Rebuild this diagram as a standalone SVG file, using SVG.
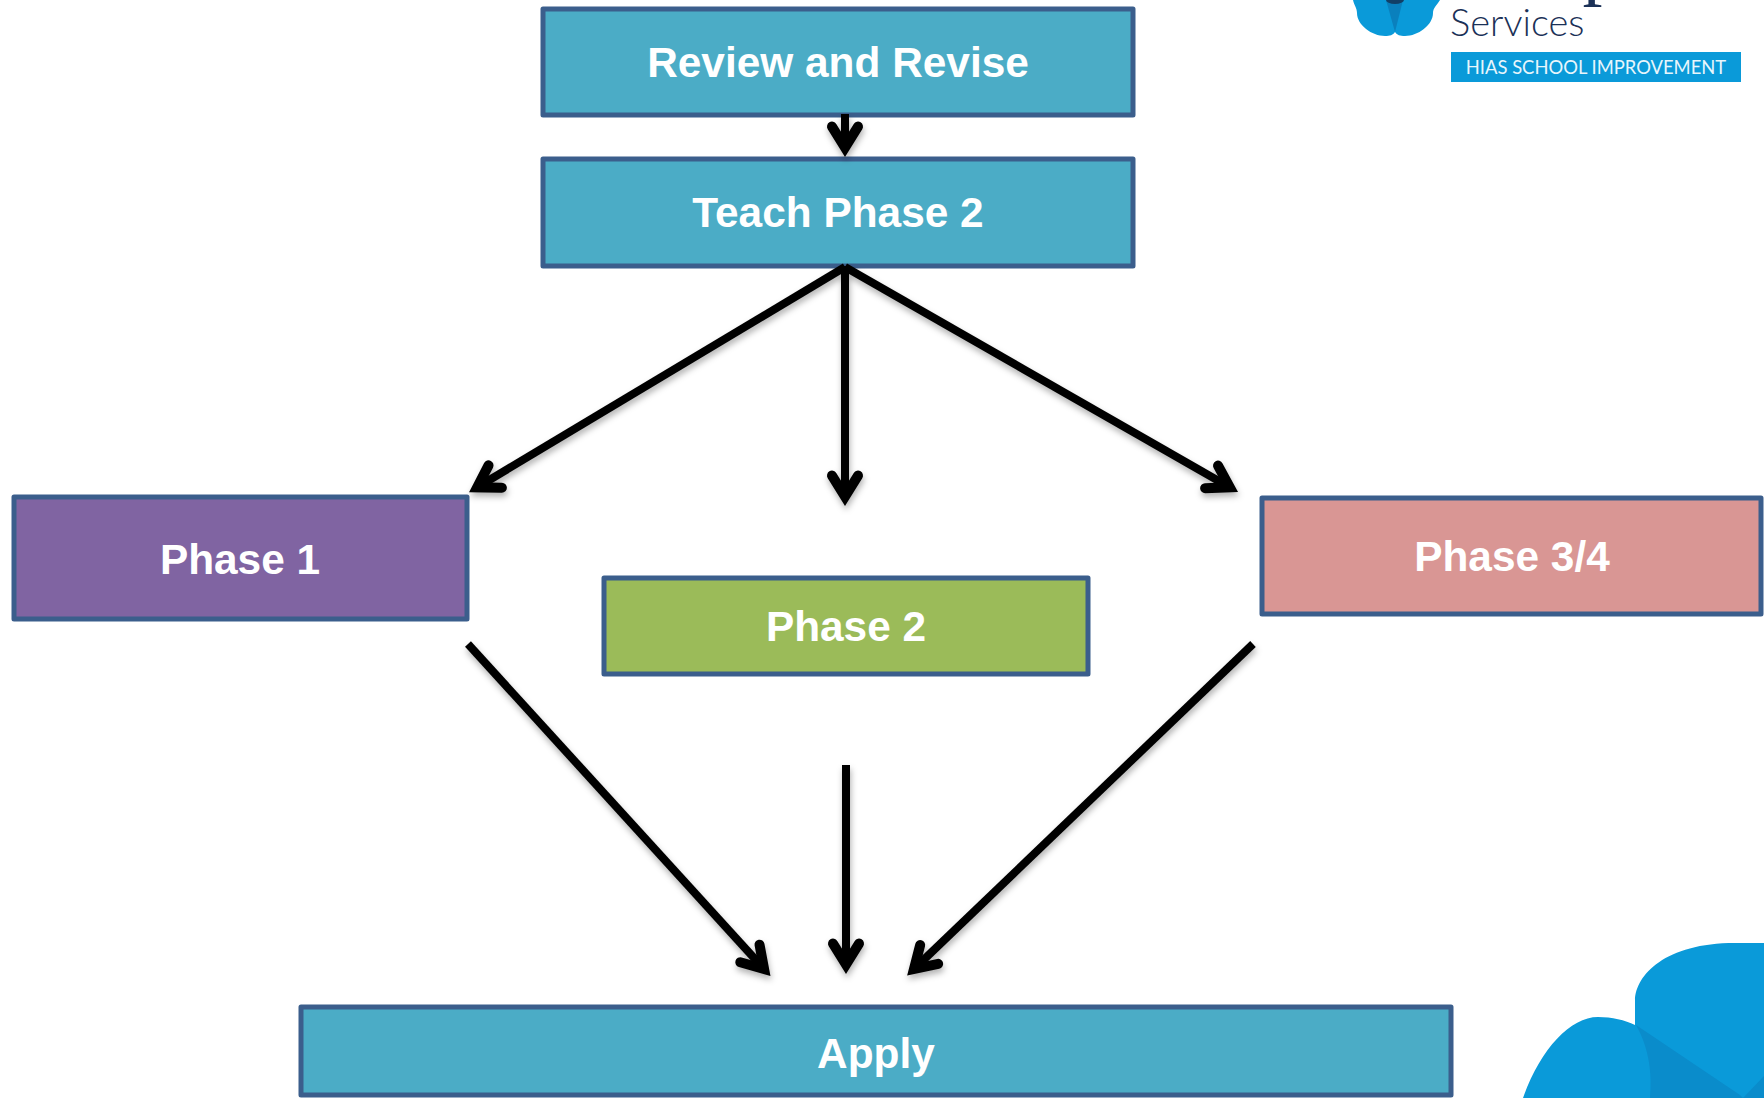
<svg xmlns="http://www.w3.org/2000/svg" width="1764" height="1098" viewBox="0 0 1764 1098">
<style>
.box{stroke:#3b5e8c;stroke-width:5;stroke-linejoin:round}
.teal{fill:#4bacc6}
.lbl{font-family:"Liberation Sans",Arial,sans-serif;font-weight:700;font-size:42.4px;fill:#fff;text-anchor:middle}
.c{fill:none;stroke:#000;stroke-width:8}
.logo{font-family:Lato,"Open Sans",sans-serif}
</style>
<defs>
<marker id="head" markerUnits="userSpaceOnUse" markerWidth="60" markerHeight="60" refX="41.400" refY="30" orient="auto" viewBox="0 0 60 60">
<path d="M19,17 L40,30 L19,43" fill="none" stroke="#000" stroke-width="10" stroke-linecap="round" stroke-linejoin="miter"/>
</marker>
<filter id="sh" filterUnits="userSpaceOnUse" x="0" y="0" width="1764" height="1098">
<feDropShadow dx="1" dy="4" stdDeviation="3" flood-color="#000" flood-opacity="0.3"/>
</filter>
</defs>
<rect width="1764" height="1098" fill="#fff"/>
<g id="logo-top">
<path d="M1353,0 C1354,5 1357,8 1357,13 C1357,25 1372,36 1385,36 C1390,36 1393,35 1395,32 C1397,35 1400,36 1405,36 C1418,36 1433,25 1433,13 C1433,8 1437,5 1440,0 Z" fill="#0a9ad9"/>
<path d="M1386,0 L1395,32 L1403,0 Z" fill="#0a80bd"/>
<ellipse cx="1395" cy="0" rx="9" ry="4" fill="#123f66"/>
<text class="logo" x="1450" y="36" font-size="38" font-weight="300" fill="#1b3157">Services</text>
<text x="1582.500" y="-10.400" font-family="Liberation Serif,serif" font-size="80" fill="#1b3157">p</text>
<rect x="1451" y="52" width="290" height="30" fill="#0a9ad9"/>
<text class="logo" x="1596" y="73.500" font-size="18.400" fill="#e8f6fc" text-anchor="middle">HIAS SCHOOL IMPROVEMENT</text>
</g>
<g id="logo-corner">
<path d="M1523,1098 C1540,1050 1570,1017 1598,1017 C1612,1017 1625,1020 1635,1025 L1635,1000 C1636,975 1665,943 1735,943 L1764,943 V1098 Z" fill="#0a9ad9"/>
<path d="M1636,1025 L1740,1095 L1743,1098 H1650 C1652,1075 1650,1050 1636,1025 Z" fill="#0a8ccb"/>
<path d="M1743,1098 L1764,1076 V1098 Z" fill="#0a8ccb"/>
</g>
<g id="review"><rect class="box teal" x="543" y="9" width="590" height="106"/><text class="lbl" x="838" y="77">Review and Revise</text></g>
<g id="teach"><rect class="box teal" x="543" y="159" width="590" height="107"/><text class="lbl" x="838" y="227">Teach Phase 2</text></g>
<g id="phase1"><rect class="box" fill="#8064a2" x="14" y="497" width="453" height="122"/><text class="lbl" x="240" y="574">Phase 1</text></g>
<g id="phase2"><rect class="box" fill="#9bbb59" x="604" y="578" width="484" height="96"/><text class="lbl" x="846" y="641">Phase 2</text></g>
<g id="phase34"><rect class="box" fill="#d99694" x="1262" y="498" width="499" height="116"/><text class="lbl" x="1512" y="571">Phase 3/4</text></g>
<g id="apply"><rect class="box teal" x="301" y="1007" width="1150" height="88"/><text class="lbl" x="876" y="1068">Apply</text></g>
<g id="connectors" filter="url(#sh)">
<line class="c" x1="845" y1="114" x2="845" y2="149" marker-end="url(#head)"/>
<line class="c" x1="845" y1="267" x2="476" y2="488" marker-end="url(#head)"/>
<line class="c" x1="845" y1="266" x2="845" y2="498" marker-end="url(#head)"/>
<line class="c" x1="845" y1="267" x2="1231" y2="488" marker-end="url(#head)"/>
<line class="c" x1="468" y1="644" x2="765" y2="970" marker-end="url(#head)"/>
<line class="c" x1="846" y1="765" x2="846" y2="966" marker-end="url(#head)"/>
<line class="c" x1="1253" y1="644" x2="913" y2="970" marker-end="url(#head)"/>
</g>
</svg>
